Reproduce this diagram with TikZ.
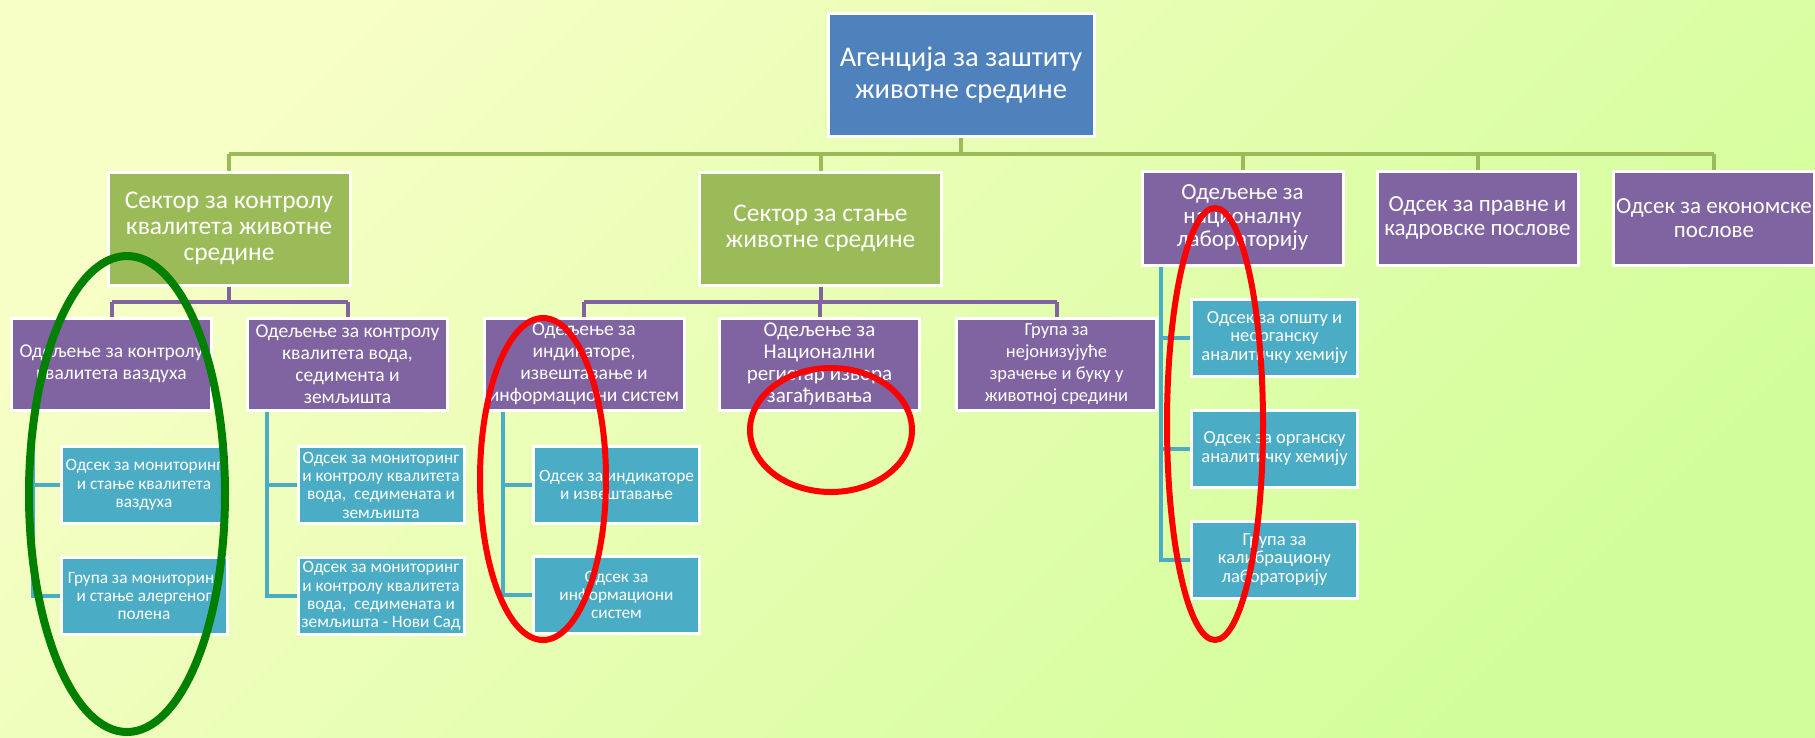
\documentclass[tikz,border=0pt]{standalone}
\usepackage{fontspec}
\setmainfont{Carlito}
\pgfdeclarelayer{bg}
\pgfdeclarelayer{lines}
\pgfsetlayers{bg,lines,main}
\definecolor{cblue}{HTML}{4F81BD}
\definecolor{cgreen}{HTML}{9BBB59}
\definecolor{cpurple}{HTML}{8064A2}
\definecolor{cteal}{HTML}{4BACC6}
\definecolor{bgA}{HTML}{F7FEC6}
\definecolor{bgB}{HTML}{D2FE9A}
\definecolor{ringgreen}{HTML}{008000}
\definecolor{ringred}{HTML}{FF0000}
\tikzset{
  box/.style 2 args={draw=white, line width=3pt, text=white, align=center, inner sep=0pt, font=\fontsize{#1}{#2}\selectfont},
  topbox/.style={box={28.5}{32}, fill=cblue, minimum width=266, minimum height=123},
  secbox/.style={box={25.5}{26}, fill=cgreen, minimum width=242, minimum height=113},
  unitbox/.style={box={23}{23.5}, fill=cpurple, minimum width=201, minimum height=94},
  depbox/.style={box={#1}{22}, fill=cpurple, minimum width=200, minimum height=92},
  subbox/.style={box={#1}{18.3}, fill=cteal, minimum width=166, minimum height=77},
  depbox/.default=19.5,
  subbox/.default=17.3,
  gline/.style={draw=cgreen, line width=4pt},
  pline/.style={draw=cpurple, line width=4pt},
  tline/.style={draw=cteal, line width=4pt},
  ring/.style={line width=#1}
}
\begin{document}
\begin{tikzpicture}[x=1pt,y=-1pt]
\useasboundingbox (0,0) rectangle (1815,737);
\begin{pgfonlayer}{bg}
\fill[top color=bgA, bottom color=bgB, shading angle=45] (0,0) rectangle (1815,737);
\end{pgfonlayer}

% level 0
\node[topbox] (top) at (961,75) {Агенција за заштиту\\животне средине};
% level 1
\node[secbox] (g1) at (229,228.5) {Сектор за контролу\\квалитета животне\\средине};
\node[secbox] (g2) at (820.5,228.5) {Сектор за стање\\животне средине};
\node[unitbox] (p3) at (1242.5,218) {Одељење за\\националну\\лабораторију};
\node[unitbox] (p4) at (1477.5,218) {Одсек за правне и\\кадровске послове};
\node[unitbox] (p5) at (1714,218) {Одсек за економске\\послове};
% level 2
\node[depbox] (p11) at (111.5,364) {Одељење за контролу\\квалитета ваздуха};
\node[depbox] (p12) at (347.5,364) {Одељење за контролу\\квалитета вода,\\седимента и\\земљишта};
\node[depbox] (p21) at (584,364) {Одељење за\\индикаторе,\\извештавање и\\информациони систем};
\node[depbox={21}] (p22) at (819.5,364) {Одељење за\\Национални\\регистар извора\\загађивања};
\node[depbox={18.5}] (p23) at (1056.5,364) {Група за\\нејонизујуће\\зрачење и буку у\\животној средини};
% level 3
\node[subbox] (a1) at (144,485) {Одсек за мониторинг\\и стање квалитета\\ваздуха};
\node[subbox] (a2) at (144,596) {Група за мониторинг\\и стање алергеног\\полена};
\node[subbox] (b1) at (381,485) {Одсек за мониторинг\\и контролу квалитета\\вода,\ \ седимената и\\земљишта};
\node[subbox] (b2) at (381,596) {Одсек за мониторинг\\и контролу квалитета\\вода,\ \ седимената и\\земљишта - Нови Сад};
\node[subbox] (c1) at (616.5,485) {Одсек за индикаторе\\и извештавање};
\node[subbox] (c2) at (616.5,595) {Одсек за\\информациони\\систем};
\node[subbox={18.5}] (d1) at (1274.5,337.5) {Одсек за општу и\\неорганску\\аналитичку хемију};
\node[subbox={18.5}] (d2) at (1274.5,448.5) {Одсек за органску\\аналитичку хемију};
\node[subbox={18.5}] (d3) at (1274.5,559.5) {Група за\\калибрациону\\лабораторију};

\coordinate (busG) at (0,154);
\coordinate (busP) at (0,302);
\coordinate (spA) at (33,0);
\coordinate (spB) at (267,0);
\coordinate (spC) at (503,0);
\coordinate (spD) at (1161,0);

\begin{pgfonlayer}{lines}
% green bus
\draw[gline] (top.south) -- (top.south |- busG);
\draw[gline] (g1.north |- busG) -- (p5.north |- busG);
\foreach \n in {g1,g2,p3,p4,p5} \draw[gline] (\n.north |- busG) -- (\n.north);
% purple buses
\draw[pline] (g1.south) -- (g1.south |- busP);
\draw[pline] (p11.north |- busP) -- (p12.north |- busP);
\foreach \n in {p11,p12} \draw[pline] (\n.north |- busP) -- (\n.north);
\draw[pline] (g2.south) -- (g2.south |- busP);
\draw[pline] (p21.north |- busP) -- (p23.north |- busP);
\foreach \n in {p21,p22,p23} \draw[pline] (\n.north |- busP) -- (\n.north);
% teal trees
\draw[tline] (p11.south -| spA) |- (a2.west);
\draw[tline] (spA |- a1.west) -- (a1.west);
\draw[tline] (p12.south -| spB) |- (b2.west);
\draw[tline] (spB |- b1.west) -- (b1.west);
\draw[tline] (p21.south -| spC) |- (c2.west);
\draw[tline] (spC |- c1.west) -- (c1.west);
\draw[tline] (p3.south -| spD) |- (d3.west);
\draw[tline] (spD |- d1.west) -- (d1.west);
\draw[tline] (spD |- d2.west) -- (d2.west);
\end{pgfonlayer}

% hand-drawn rings
\draw[ring=8pt, ringgreen] (127,494) ellipse [x radius=98, y radius=238];
\draw[ring=6pt, ringred] (543,479) ellipse [x radius=63, y radius=161];
\draw[ring=6pt, ringred] (831,430) ellipse [x radius=81, y radius=62];
\draw[ring=6pt, ringred] (1215,424) ellipse [x radius=48, y radius=216];
\end{tikzpicture}
\end{document}
